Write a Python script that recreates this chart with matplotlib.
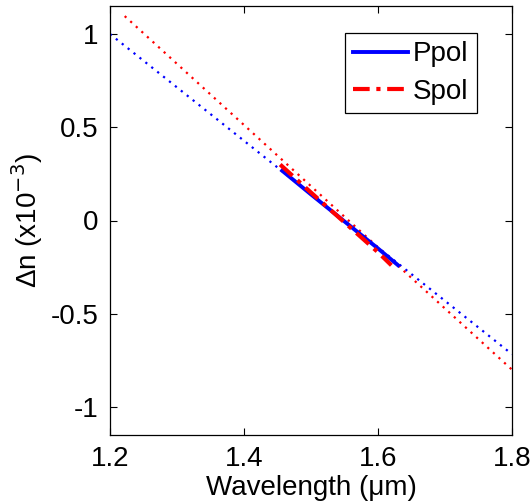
import numpy as np
import matplotlib.pyplot as plt

plt.rcParams['font.family'] = ['Liberation Sans', 'DejaVu Sans']

# Measured curves (wavelength in um, delta n in units of 1e-3)
p_wl = [1.457, 1.50, 1.55, 1.60, 1.63]
p_dn = [0.267, 0.14, -0.005, -0.15, -0.24]
s_wl = [1.454, 1.50, 1.55, 1.60, 1.62]
s_dn = [0.30, 0.15, -0.01, -0.17, -0.24]

# Extrapolated linear fits
p_fit_wl = [1.20, 1.80]
p_fit_dn = [1.00, -0.717]
s_fit_wl = [1.222, 1.80]
s_fit_dn = [1.096, -0.80]

fig = plt.figure(figsize=(5.3, 5.04), dpi=100)
ax = fig.add_axes([0.2075, 0.137, 0.7585, 0.851])

ax.plot(p_fit_wl, p_fit_dn, color='b', lw=1.6, linestyle=(0, (1, 2.4)))
ax.plot(s_fit_wl, s_fit_dn, color='r', lw=1.6, linestyle=(0, (1, 2.4)))
ax.plot(p_wl, p_dn, color='b', lw=2.8, label='Ppol')
ax.plot(s_wl, s_dn, color='r', lw=3, linestyle=(0, (4, 1.6, 1, 1.6)), label='Spol')

ax.set_xlim(1.2, 1.8)
ax.set_ylim(-1.15, 1.15)
ax.set_xticks([1.2, 1.4, 1.6, 1.8])
ax.set_xticklabels(['1.2', '1.4', '1.6', '1.8'])
ax.set_yticks([-1, -0.5, 0, 0.5, 1])
ax.set_yticklabels(['-1', '-0.5', '0', '0.5', '1'])
ax.tick_params(direction='in', top=True, right=True, length=5, width=0.8,
               labelsize=20, pad=8)
for sp in ax.spines.values():
    sp.set_linewidth(0.9)

ax.set_xlabel('Wavelength (\u03bcm)', fontsize=20, labelpad=2)
ax.set_ylabel('\u0394n (x10$^{-3}$)', fontsize=20, labelpad=4)

leg = ax.legend(loc='upper right', fontsize=20, handlelength=1.95,
                handletextpad=0.2, borderpad=0.3, labelspacing=0.4,
                borderaxespad=0, fancybox=False, framealpha=1,
                edgecolor='black', bbox_to_anchor=(0.913, 0.937))
leg.get_frame().set_linewidth(0.9)

fig.savefig('out.png', dpi=100)
